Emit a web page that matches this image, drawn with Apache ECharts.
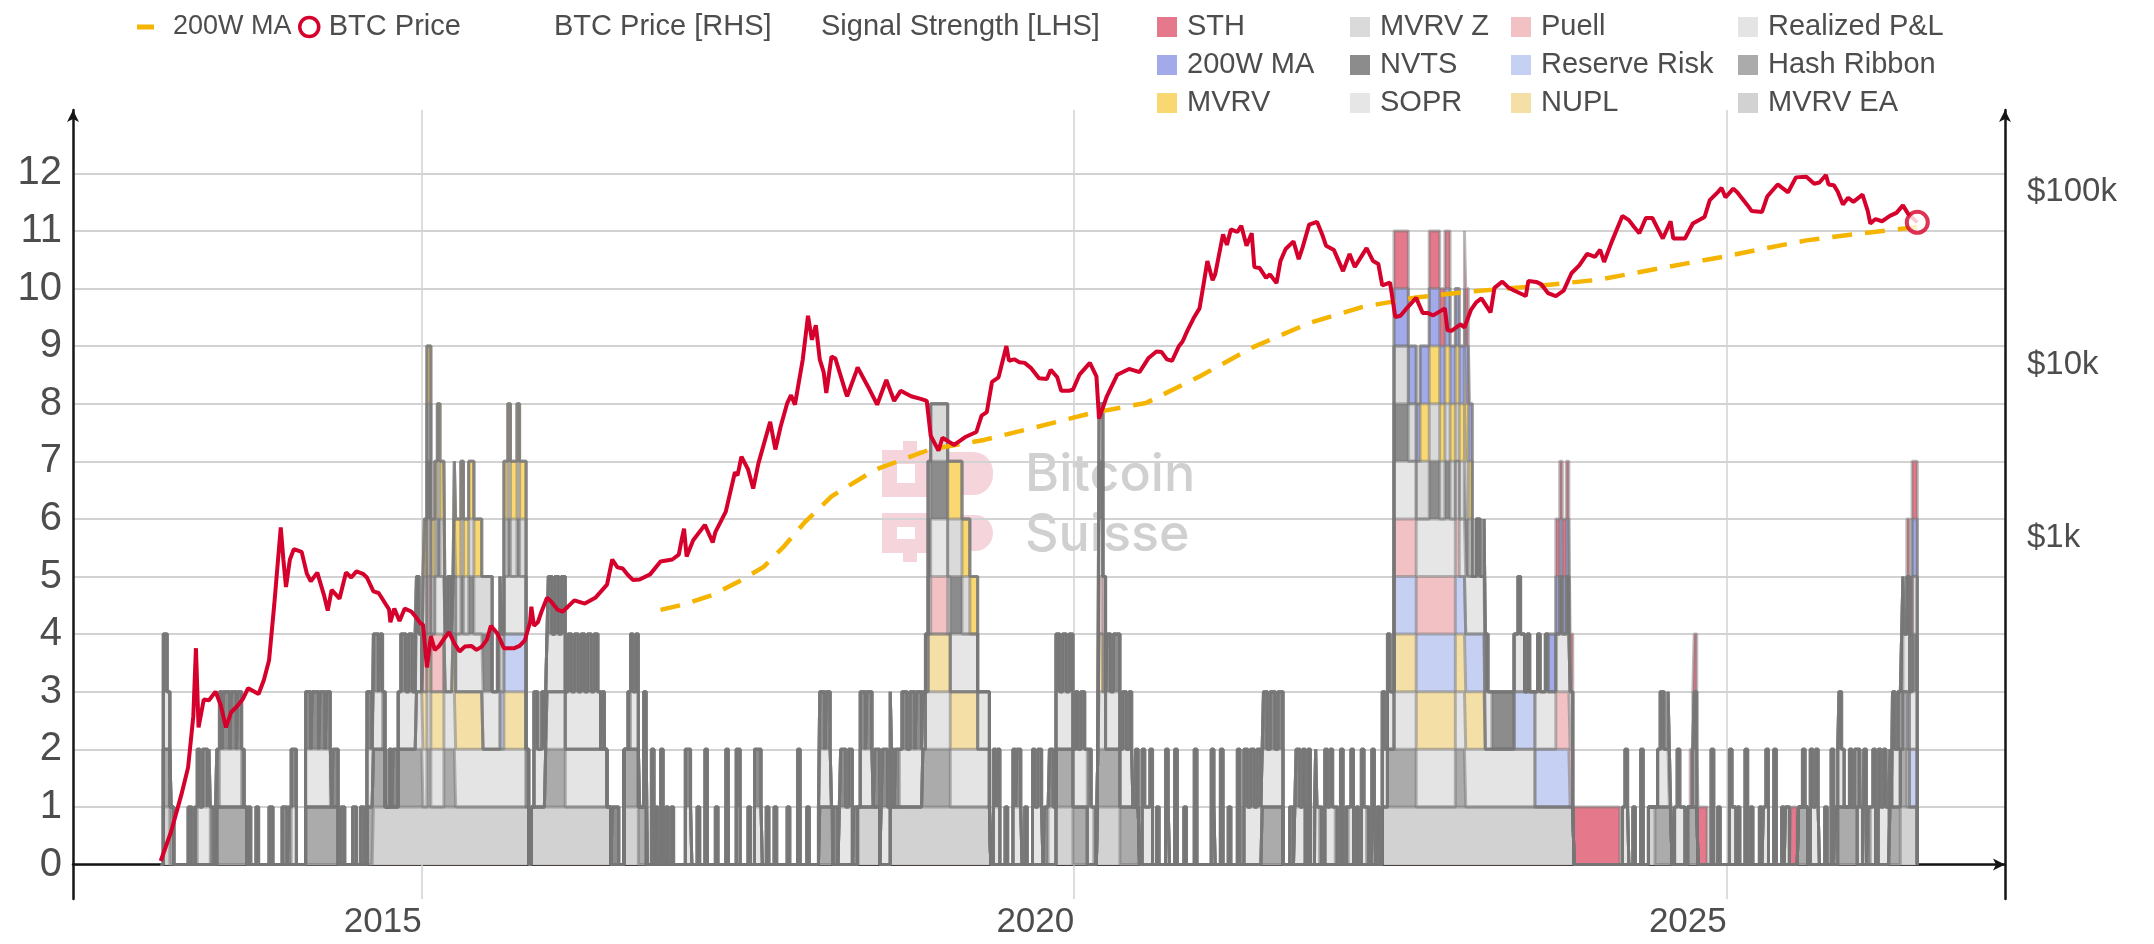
<!DOCTYPE html>
<html>
<head>
<meta charset="utf-8">
<script src="https://cdn.jsdelivr.net/npm/echarts@6.0.0/dist/echarts.min.js"></script>
<style>
  html, body { margin: 0; padding: 0; background: #ffffff; }
  #chart { width: 2154px; height: 944px; }
</style>
</head>
<body>
<div id="chart"></div>
<script>
// ---------- axes ----------
const X_MIN = 2012.328;          // decimal years
const X_MAX = 2027.132;
const yearTicks = [2015, 2020, 2025];
const priceTickLabels = { 3: '$1k', 4: '$10k', 5: '$100k' };   // keyed by log10(price)

// ---------- BTC price, USD [decimal year, price] ----------
const btcPrice = [
  [2013.00, 13.5], [2013.08, 20], [2013.16, 33], [2013.21, 47], [2013.25, 93], [2013.27, 230], [2013.29, 80],
  [2013.33, 116], [2013.37, 115], [2013.42, 129], [2013.46, 108], [2013.50, 80], [2013.54, 98], [2013.58, 105],
  [2013.63, 117], [2013.67, 135], [2013.75, 125], [2013.79, 150], [2013.83, 195], [2013.87, 410], [2013.92, 1150],
  [2013.94, 750], [2013.96, 520], [2013.99, 750],
  [2014.02, 860], [2014.08, 830], [2014.12, 620], [2014.15, 560], [2014.20, 630], [2014.25, 470], [2014.28, 380],
  [2014.31, 500], [2014.37, 445], [2014.42, 630], [2014.46, 590], [2014.50, 640], [2014.55, 620], [2014.58, 590],
  [2014.63, 490], [2014.67, 480], [2014.71, 430], [2014.75, 385], [2014.76, 325], [2014.79, 390], [2014.83, 330],
  [2014.87, 390], [2014.92, 375], [2014.96, 345], [2014.99, 320],
  [2015.01, 315], [2015.04, 178], [2015.07, 270], [2015.10, 225], [2015.13, 235], [2015.17, 260], [2015.21, 285],
  [2015.25, 245], [2015.29, 220], [2015.33, 235], [2015.38, 237], [2015.42, 225], [2015.46, 235], [2015.50, 258],
  [2015.53, 310], [2015.58, 280], [2015.63, 230], [2015.67, 230], [2015.71, 230], [2015.75, 237], [2015.79, 255],
  [2015.83, 325], [2015.84, 400], [2015.86, 310], [2015.89, 325], [2015.92, 378], [2015.96, 450], [2015.99, 430],
  [2016.04, 385], [2016.08, 375], [2016.12, 400], [2016.17, 435], [2016.25, 417], [2016.33, 450], [2016.42, 536],
  [2016.46, 750], [2016.50, 675], [2016.54, 665], [2016.58, 610], [2016.62, 570], [2016.67, 575], [2016.75, 615],
  [2016.83, 730], [2016.92, 750], [2016.97, 800], [2016.99, 960],
  [2017.01, 1130], [2017.03, 780], [2017.08, 970], [2017.17, 1190], [2017.23, 940], [2017.25, 1080], [2017.33, 1420],
  [2017.40, 2400], [2017.42, 2300], [2017.45, 2950], [2017.50, 2500], [2017.54, 1930], [2017.58, 2700], [2017.67, 4700],
  [2017.71, 3250], [2017.75, 4400], [2017.80, 6000], [2017.83, 6700], [2017.86, 5900], [2017.92, 10800], [2017.96, 19300],
  [2017.99, 14000],
  [2018.02, 17000], [2018.05, 10800], [2018.08, 9100], [2018.10, 6900], [2018.14, 11200], [2018.17, 10900], [2018.25, 6900],
  [2018.26, 6600], [2018.33, 9200], [2018.34, 9700], [2018.42, 7500], [2018.49, 5900], [2018.56, 8200], [2018.62, 6200],
  [2018.67, 7100], [2018.75, 6600], [2018.83, 6350], [2018.87, 6200], [2018.90, 3900], [2018.96, 3200], [2018.99, 3800],
  [2019.04, 3600], [2019.08, 3450], [2019.17, 3850], [2019.25, 4100], [2019.29, 5100], [2019.33, 5350], [2019.37, 8000],
  [2019.42, 8500], [2019.48, 12900], [2019.50, 10600], [2019.54, 10800], [2019.58, 10400], [2019.62, 10300], [2019.67, 9600],
  [2019.73, 8400], [2019.79, 8300], [2019.82, 9400], [2019.87, 8500], [2019.90, 7100], [2019.96, 7100], [2019.99, 7200],
  [2020.04, 8800], [2020.12, 10300], [2020.17, 8600], [2020.19, 4900], [2020.25, 6600], [2020.33, 8800], [2020.42, 9500],
  [2020.50, 9100], [2020.57, 11000], [2020.63, 12000], [2020.67, 11900], [2020.71, 10800], [2020.75, 10600], [2020.80, 12800],
  [2020.83, 13700], [2020.87, 16000], [2020.92, 19000], [2020.96, 21300], [2020.99, 29000],
  [2021.02, 40000], [2021.06, 31000], [2021.08, 33500], [2021.14, 57000], [2021.17, 49600], [2021.20, 61000], [2021.25, 59000],
  [2021.28, 64000], [2021.32, 49000], [2021.36, 58000], [2021.38, 37000], [2021.42, 36500], [2021.47, 32000], [2021.50, 33500],
  [2021.55, 29800], [2021.58, 40000], [2021.62, 47000], [2021.68, 52000], [2021.72, 41000], [2021.75, 48000], [2021.80, 65000],
  [2021.86, 67500], [2021.90, 57000], [2021.93, 49000], [2021.99, 46300],
  [2022.06, 35000], [2022.11, 44000], [2022.15, 37000], [2022.24, 47500], [2022.29, 40000], [2022.33, 38500], [2022.36, 28900],
  [2022.42, 30000], [2022.46, 19000], [2022.50, 19300], [2022.54, 21000], [2022.62, 24500], [2022.67, 20000], [2022.71, 20000],
  [2022.75, 19400], [2022.84, 21300], [2022.86, 15900], [2022.89, 15800], [2022.96, 17200], [2022.99, 16500],
  [2023.04, 20900], [2023.08, 23100], [2023.12, 24300], [2023.19, 20200], [2023.22, 28000], [2023.28, 30400], [2023.33, 28000],
  [2023.37, 27000], [2023.46, 25100], [2023.48, 30700], [2023.54, 30300], [2023.58, 29300], [2023.63, 26100], [2023.69, 25100],
  [2023.75, 27000], [2023.81, 34000], [2023.87, 37800], [2023.93, 44000], [2023.99, 42300],
  [2024.03, 46500], [2024.06, 39500], [2024.12, 52000], [2024.20, 73000], [2024.25, 69000], [2024.29, 63000], [2024.33, 58000],
  [2024.38, 71000], [2024.43, 71000], [2024.51, 54000], [2024.57, 68000], [2024.59, 54000], [2024.68, 54000], [2024.74, 66000],
  [2024.83, 72000], [2024.87, 90000], [2024.93, 100000], [2024.96, 106000], [2024.99, 93500],
  [2025.05, 105000], [2025.08, 100000], [2025.16, 84000], [2025.19, 78000], [2025.27, 77000], [2025.31, 94500], [2025.39, 111000],
  [2025.47, 100000], [2025.53, 122000], [2025.61, 123000], [2025.67, 112000], [2025.71, 114000], [2025.76, 126000], [2025.78, 111000],
  [2025.82, 110000], [2025.85, 101000], [2025.89, 85000], [2025.93, 93000], [2025.97, 88000],
  [2026.04, 97000], [2026.08, 78000], [2026.10, 66000], [2026.14, 70000], [2026.19, 68000], [2026.25, 73000], [2026.30, 76000],
  [2026.35, 84000], [2026.39, 75000], [2026.46, 67000]
];

// ---------- 200-week moving average, USD ----------
const ma200wLine = [
  [2016.83, 383], [2017.00, 410], [2017.23, 468], [2017.45, 570], [2017.62, 680], [2017.78, 900], [2017.93, 1220],
  [2018.14, 1740], [2018.47, 2470], [2018.89, 3240], [2019.31, 3690], [2019.72, 4400], [2020.14, 5290], [2020.55, 6040],
  [2020.96, 8600], [2021.38, 12800], [2021.80, 17500], [2022.21, 21700], [2022.60, 24500], [2023.00, 26500],
  [2023.50, 28500], [2024.02, 31200], [2024.50, 36500], [2024.97, 42300], [2025.30, 47500], [2025.61, 52700],
  [2026.00, 57500], [2026.46, 63000]
];

// ---------- signal activity, [start, end) in decimal years ----------
const sth = [[2022.45,2022.56],[2022.72,2022.88],[2022.99,2023.03],[2023.69,2023.82],[2023.83,2024.18],[2024.72,2024.85],[2025.49,2025.54],[2026.38,2026.46]];
const ma200wSignal = [[2022.45,2023.05],[2023.63,2023.80],[2026.40,2026.46]];
const mvrv = [[2015.02,2015.18],[2015.25,2015.46],[2015.63,2015.80],[2019.03,2019.26],[2022.65,2023.05]];
const mvrvZ = [[2015.01,2015.18],[2015.25,2015.54],[2015.63,2015.80],[2018.88,2019.20],[2020.19,2020.22],[2022.45,2023.05],[2026.42,2026.46]];
const nvts = [
  [2013.02,2013.05],[2013.21,2013.24],[2013.26,2013.30],[2013.32,2013.36],[2013.37,2013.41],[2013.42,2013.47],[2013.48,2013.53],
  [2013.54,2013.58],[2013.59,2013.64],[2013.67,2013.69],[2013.73,2013.75],[2013.83,2013.86],[2013.93,2013.97],[2013.98,2014.04],
  [2014.11,2014.15],[2014.16,2014.21],[2014.22,2014.26],[2014.27,2014.31],[2014.32,2014.36],[2014.38,2014.41],[2014.47,2014.50],
  [2014.53,2014.56],[2014.58,2014.62],[2014.63,2014.67],[2014.68,2014.72],[2014.75,2014.77],[2014.78,2014.82],[2014.84,2014.88],
  [2014.90,2014.93],[2014.95,2014.98],
  [2015.04,2015.07],[2015.12,2015.14],[2015.20,2015.23],[2015.30,2015.32],[2015.36,2015.40],[2015.47,2015.54],[2015.58,2015.61],
  [2015.66,2015.68],[2015.73,2015.75],[2015.86,2015.89],[2015.92,2015.94],[2015.97,2016.00],
  [2016.02,2016.05],[2016.07,2016.10],[2016.12,2016.15],[2016.17,2016.20],[2016.22,2016.25],[2016.27,2016.30],[2016.32,2016.35],
  [2016.38,2016.40],[2016.46,2016.51],[2016.58,2016.62],[2016.64,2016.67],[2016.70,2016.73],[2016.76,2016.78],[2016.79,2016.81],
  [2016.83,2016.85],[2016.87,2016.89],[2016.91,2016.93],
  [2017.02,2017.06],[2017.11,2017.13],[2017.17,2017.19],[2017.25,2017.27],[2017.33,2017.35],[2017.41,2017.44],[2017.50,2017.52],
  [2017.55,2017.60],[2017.64,2017.66],[2017.70,2017.72],[2017.80,2017.82],[2017.88,2017.90],[2017.95,2017.97],
  [2018.04,2018.09],[2018.10,2018.13],[2018.15,2018.19],[2018.21,2018.25],[2018.27,2018.30],[2018.31,2018.34],[2018.36,2018.40],
  [2018.41,2018.45],[2018.47,2018.51],[2018.53,2018.57],[2018.59,2018.62],[2018.63,2018.66],[2018.68,2018.72],[2018.74,2018.78],
  [2018.79,2018.83],[2018.88,2019.03],
  [2019.05,2019.14],[2019.38,2019.40],[2019.41,2019.43],[2019.47,2019.49],[2019.53,2019.55],[2019.56,2019.59],[2019.62,2019.64],
  [2019.68,2019.70],[2019.72,2019.75],[2019.77,2019.80],[2019.81,2019.84],[2019.86,2019.89],[2019.91,2019.94],[2019.96,2019.99],
  [2020.01,2020.03],[2020.05,2020.08],[2020.10,2020.13],[2020.15,2020.17],[2020.19,2020.22],[2020.25,2020.28],[2020.30,2020.35],
  [2020.37,2020.40],[2020.42,2020.44],[2020.47,2020.49],[2020.52,2020.54],[2020.58,2020.60],[2020.63,2020.65],[2020.70,2020.72],
  [2020.77,2020.79],[2020.84,2020.86],[2020.92,2020.94],
  [2021.05,2021.07],[2021.12,2021.14],[2021.18,2021.20],[2021.25,2021.27],[2021.30,2021.33],[2021.35,2021.38],[2021.40,2021.43],
  [2021.45,2021.48],[2021.50,2021.54],[2021.56,2021.60],[2021.65,2021.68],[2021.70,2021.73],[2021.75,2021.77],[2021.79,2021.81],
  [2021.84,2021.86],[2021.88,2021.90],[2021.92,2021.94],[2021.96,2021.98],
  [2022.00,2022.02],[2022.04,2022.06],[2022.08,2022.10],[2022.12,2022.14],[2022.16,2022.18],[2022.20,2022.22],[2022.24,2022.26],
  [2022.28,2022.30],[2022.32,2022.34],[2022.36,2022.38],[2022.40,2022.42],[2022.45,2022.56],[2022.72,2022.80],[2022.84,2022.88],
  [2022.99,2023.02],
  [2023.08,2023.11],[2023.14,2023.17],[2023.20,2023.37],[2023.40,2023.42],[2023.47,2023.49],[2023.55,2023.57],[2023.61,2023.63],
  [2023.72,2023.74],[2023.77,2023.79],
  [2024.22,2024.24],[2024.28,2024.30],[2024.34,2024.36],[2024.49,2024.52],[2024.55,2024.57],[2024.62,2024.64],[2024.75,2024.77],
  [2024.88,2024.90],[2024.93,2024.95],
  [2025.02,2025.04],[2025.08,2025.10],[2025.14,2025.16],[2025.18,2025.20],[2025.25,2025.27],[2025.30,2025.32],[2025.36,2025.38],
  [2025.42,2025.44],[2025.58,2025.60],[2025.64,2025.66],[2025.68,2025.70],[2025.75,2025.77],[2025.80,2025.82],[2025.86,2025.88],
  [2025.94,2025.96],
  [2026.00,2026.02],[2026.05,2026.07],[2026.08,2026.10],[2026.12,2026.14],[2026.16,2026.18],[2026.20,2026.22],[2026.24,2026.26],
  [2026.27,2026.29],[2026.31,2026.33],[2026.34,2026.36],[2026.38,2026.40],[2026.42,2026.46]
];
const sopr = [
  [2013.02,2013.08],[2013.28,2013.38],[2013.45,2013.62],[2014.00,2014.04],[2014.11,2014.30],[2014.58,2014.70],[2014.82,2015.00],
  [2015.04,2015.07],[2015.10,2015.80],[2015.86,2016.37],[2016.60,2016.66],[2016.70,2016.73],[2016.76,2016.78],[2016.83,2016.85],
  [2017.02,2017.07],[2017.17,2017.19],[2017.33,2017.35],[2017.41,2017.44],[2017.55,2017.61],[2017.88,2017.90],[2018.05,2018.14],
  [2018.20,2018.30],[2018.36,2018.46],[2018.52,2018.60],[2018.66,2019.35],[2019.38,2019.43],[2019.53,2019.60],[2019.68,2019.76],
  [2019.80,2020.15],[2020.19,2020.45],[2020.52,2020.60],[2020.70,2020.73],[2020.77,2020.79],[2020.92,2020.94],[2021.05,2021.08],
  [2021.12,2021.14],[2021.25,2021.27],[2021.30,2021.60],[2021.69,2021.77],[2021.79,2021.81],[2021.85,2021.88],[2021.92,2022.00],
  [2022.04,2022.06],[2022.10,2022.14],[2022.20,2022.24],[2022.28,2022.31],[2022.36,2023.20],[2023.37,2023.45],[2023.53,2023.82],
  [2024.20,2024.25],[2024.34,2024.36],[2024.47,2024.56],[2024.60,2024.68],[2024.74,2024.77],[2024.88,2024.90],[2025.02,2025.07],
  [2025.14,2025.16],[2025.28,2025.32],[2025.36,2025.38],[2025.45,2025.48],[2025.64,2025.71],[2025.80,2025.82],[2025.83,2025.90],
  [2025.98,2026.04],[2026.05,2026.07],[2026.10,2026.14],[2026.16,2026.24],[2026.27,2026.46]
];
const puell = [[2015.01,2015.17],[2018.90,2019.03],[2020.19,2020.24],[2022.45,2022.95],[2023.69,2023.82]];
const reserveRisk = [[2015.60,2015.82],[2022.45,2023.15],[2023.37,2023.80],[2026.38,2026.46]];
const nupl = [[2015.01,2015.18],[2015.24,2015.47],[2015.63,2015.80],[2018.88,2019.26],[2020.19,2020.22],[2022.45,2023.15]];
const realizedPnl = [[2014.96,2015.80],[2015.96,2016.42],[2018.86,2019.35],[2020.19,2020.24],[2022.45,2023.53],[2026.35,2026.40]];
const hashRibbon = [
  [2013.02,2013.10],[2013.43,2013.66],[2014.11,2014.36],[2014.58,2014.72],[2014.82,2015.01],[2015.04,2015.07],[2015.17,2015.26],
  [2015.95,2016.10],[2016.55,2016.72],[2018.05,2018.15],[2018.84,2019.05],[2019.86,2020.10],[2020.18,2020.50],[2021.44,2021.60],
  [2022.40,2022.62],[2022.92,2023.00],[2024.45,2024.58],[2024.70,2024.78],[2025.55,2025.62],[2025.85,2026.00],[2026.25,2026.38]
];
const mvrvEa = [
  [2013.02,2013.07],[2014.63,2015.82],[2015.84,2016.45],[2016.55,2016.66],[2018.34,2018.51],[2018.59,2019.36],[2019.86,2019.99],
  [2020.18,2020.35],[2022.36,2023.83],[2024.40,2024.45],[2026.33,2026.46]
];
const SIGNAL_START = 2013.0;
const SIGNAL_END = 2026.46;

// stack order, bottom first
const signals = [
  { name: 'MVRV EA',      color: '#D2D2D2', periods: mvrvEa },
  { name: 'Hash Ribbon',  color: '#ABABAB', periods: hashRibbon },
  { name: 'Realized P&L', color: '#E4E4E4', periods: realizedPnl },
  { name: 'NUPL',         color: '#F4DFA6', periods: nupl },
  { name: 'Reserve Risk', color: '#C6D0F2', periods: reserveRisk },
  { name: 'Puell',        color: '#F2C1C4', periods: puell },
  { name: 'SOPR',         color: '#E6E6E6', periods: sopr },
  { name: 'NVTS',         color: '#8C8C8C', periods: nvts },
  { name: 'MVRV Z',       color: '#DADADA', periods: mvrvZ },
  { name: 'MVRV',         color: '#F9D872', periods: mvrv },
  { name: '200W MA',      color: '#A3AAEA', periods: ma200wSignal },
  { name: 'STH',          color: '#E5788A', periods: sth }
];

const legendColumns = [
  ['STH', '200W MA', 'MVRV'],
  ['MVRV Z', 'NVTS', 'SOPR'],
  ['Puell', 'Reserve Risk', 'NUPL'],
  ['Realized P&L', 'Hash Ribbon', 'MVRV EA']
];
const legendLefts = [1157, 1350, 1511, 1738];

// ---------- build ----------
const FONT = "'Liberation Sans', Arial, sans-serif";
const TEXT = '#4d4d4d';
const RED = '#D5002B';
const GOLD = '#F5B400';

// common time steps: every start / end of any signal
const edges = new Set([SIGNAL_START, SIGNAL_END]);
signals.forEach(s => s.periods.forEach(([a, b]) => { edges.add(a); edges.add(b); }));
const timeline = Array.from(edges).sort((a, b) => a - b);

// running totals: level k = number of active signals among the first k+1 of the stack
let running = timeline.map(() => 0);
const stackTops = signals.map(s => {
  running = running.map((r, i) => {
    const t = timeline[i];
    return r + (s.periods.some(([a, b]) => t >= a && t < b) ? 1 : 0);
  });
  return running.slice();
});

// filled bands: highest cumulative level painted first, lower levels over it
const bandSeries = signals.map((s, k) => ({
  type: 'line',
  name: s.name,
  xAxisIndex: 1,
  yAxisIndex: 2,
  step: 'end',
  symbol: 'none',
  z: 2,
  silent: true,
  emphasis: { disabled: true },
  itemStyle: { color: s.color },
  lineStyle: { width: 0 },
  areaStyle: { color: s.color, opacity: 1 },
  data: timeline.map((t, i) => [t, stackTops[k][i]])
})).reverse();

// grey outline along every band's upper edge
const outlineSeries = signals.map((s, k) => ({
  type: 'line',
  xAxisIndex: 1,
  yAxisIndex: 2,
  step: 'end',
  symbol: 'none',
  z: 3,
  silent: true,
  emphasis: { disabled: true },
  lineStyle: { color: 'rgba(118,118,118,0.5)', width: 3 },
  data: timeline.map((t, i) => [t, stackTops[k][i]])
}));

const colorOf = {};
signals.forEach(s => { colorOf[s.name] = s.color; });

const signalLegends = legendColumns.map((names, i) => ({
  orient: 'vertical',
  left: legendLefts[i],
  top: 12,
  padding: 0,
  itemGap: 8,
  itemWidth: 20,
  itemHeight: 20,
  textStyle: { fontFamily: FONT, fontSize: 29, color: TEXT, lineHeight: 30, padding: [0, 0, 0, 5] },
  data: names.map(n => ({ name: n, icon: 'rect', itemStyle: { color: colorOf[n], borderWidth: 0 } }))
}));

const lastPrice = btcPrice[btcPrice.length - 1];

// watermark logo pieces (two rows of a framed square and a rounded block)
function logoRow(y0, h, stemY) {
  const c = 'rgba(226,112,138,0.30)';
  return [
    { type: 'rect', shape: { x: 882, y: y0, width: 50, height: 14 }, style: { fill: c } },
    { type: 'rect', shape: { x: 882, y: y0 + h - 14, width: 50, height: 14 }, style: { fill: c } },
    { type: 'rect', shape: { x: 882, y: y0 + 14, width: 15, height: h - 28 }, style: { fill: c } },
    { type: 'rect', shape: { x: 915, y: y0 + 14, width: 17, height: h - 28 }, style: { fill: c } },
    { type: 'rect', shape: { x: 903, y: stemY, width: 14, height: 9 }, style: { fill: c } },
    { type: 'rect', shape: { x: 935, y: y0 + 2, width: 58, height: h - 4, r: [0, 20, 20, 0] }, style: { fill: c } }
  ];
}

const option = {
  backgroundColor: '#ffffff',
  animation: false,
  grid: [
    { left: 73, right: 149, top: 110, bottom: 45 },      // frame with axis lines
    { left: 73, right: 149, top: 173.3, bottom: 79.5 },  // signal strength 0..12
    { left: 73, right: 149, top: 19.5, bottom: 60.5 }    // BTC price, log 10..1e6
  ],
  xAxis: [
    {
      type: 'value', gridIndex: 0, min: X_MIN, max: X_MAX,
      axisLine: { show: true, lineStyle: { color: '#151515', width: 2.5 }, symbol: ['none', 'arrow'], symbolSize: [9, 12] },
      axisTick: { show: false },
      splitLine: { show: false },
      axisLabel: {
        customValues: yearTicks, formatter: v => String(Math.round(v)),
        align: 'right', margin: 6, fontFamily: FONT, fontSize: 35, color: TEXT
      }
    },
    { type: 'value', gridIndex: 1, min: X_MIN, max: X_MAX, show: false },
    { type: 'value', gridIndex: 2, min: X_MIN, max: X_MAX, show: false }
  ],
  yAxis: [
    {
      type: 'value', gridIndex: 0, min: -0.6, max: 13.1, position: 'left',
      axisLine: { show: true, lineStyle: { color: '#151515', width: 2.5 }, symbol: ['none', 'arrow'], symbolSize: [9, 12] },
      axisTick: { show: false }, axisLabel: { show: false }, splitLine: { show: false }
    },
    {
      type: 'value', gridIndex: 0, min: -0.6, max: 13.1, position: 'right',
      axisLine: { show: true, lineStyle: { color: '#151515', width: 2.5 }, symbol: ['none', 'arrow'], symbolSize: [9, 12] },
      axisTick: { show: false }, axisLabel: { show: false }, splitLine: { show: false }
    },
    {
      type: 'value', gridIndex: 1, min: 0, max: 12, interval: 1, position: 'left',
      axisLine: { show: false }, axisTick: { show: false },
      axisLabel: { margin: 11, fontFamily: FONT, fontSize: 40, color: TEXT },
      splitLine: { show: true, lineStyle: { color: '#d2d2d2', width: 2 } }
    },
    {
      type: 'log', logBase: 10, gridIndex: 2, min: 10, max: 1000000, position: 'right',
      axisLine: { show: false }, axisTick: { show: false }, splitLine: { show: false },
      axisLabel: {
        margin: 22, fontFamily: FONT, fontSize: 33, color: TEXT,
        formatter: v => priceTickLabels[Math.round(Math.log10(v))] || ''
      }
    }
  ],
  legend: [
    {
      left: 137, top: 12, padding: 0, itemWidth: 17, itemHeight: 5,
      textStyle: { fontFamily: FONT, fontSize: 27, color: TEXT, lineHeight: 30, padding: [0, 0, 0, 14] },
      data: [{ name: '200W MA', icon: 'rect', itemStyle: { color: GOLD, borderWidth: 0 } }]
    },
    {
      left: 298, top: 12, padding: 0, itemWidth: 19, itemHeight: 19,
      textStyle: { fontFamily: FONT, fontSize: 29, color: TEXT, lineHeight: 30, padding: [0, 0, 0, 5] },
      data: [{ name: 'BTC Price', icon: 'circle', itemStyle: { color: '#ffffff', borderColor: RED, borderWidth: 3.5 } }]
    },
    ...signalLegends
  ],
  graphic: [
    { type: 'text', left: 554, top: 12, style: { text: 'BTC Price [RHS]', font: `29px ${FONT}`, fill: TEXT, lineHeight: 30 } },
    { type: 'text', left: 821, top: 12, style: { text: 'Signal Strength [LHS]', font: `29px ${FONT}`, fill: TEXT, lineHeight: 30 } },
    {
      type: 'group', z: 5, silent: true,
      children: [
        ...logoRow(450, 47, 441),
        ...logoRow(513, 40, 553),
        { type: 'text', x: 1025, y: 475, style: { text: 'Bitcoin', font: '500 52px Inter', fill: 'rgba(150,150,150,0.45)', verticalAlign: 'middle' } },
        { type: 'text', x: 1025, y: 535, style: { text: 'Suisse', font: '500 52px Inter', fill: 'rgba(150,150,150,0.45)', verticalAlign: 'middle' } }
      ]
    }
  ],
  series: [
    {
      type: 'line', xAxisIndex: 0, yAxisIndex: 0, symbol: 'none', silent: true, z: 1,
      lineStyle: { width: 0 }, data: [[yearTicks[0], 0]],
      markLine: {
        silent: true, symbol: 'none', label: { show: false }, z: 1,
        lineStyle: { color: '#d2d2d2', width: 1.5, type: 'solid' },
        data: yearTicks.map(y => ({ xAxis: y }))
      }
    },
    ...bandSeries,
    ...outlineSeries,
    {
      type: 'line', name: '200W MA', xAxisIndex: 2, yAxisIndex: 3, symbol: 'none', z: 9, silent: true,
      itemStyle: { color: GOLD },
      lineStyle: { color: GOLD, width: 4.5, type: [20, 13] },
      data: ma200wLine
    },
    {
      type: 'line', name: 'BTC Price', xAxisIndex: 2, yAxisIndex: 3, symbol: 'none', z: 10, silent: true,
      itemStyle: { color: RED },
      lineStyle: { color: RED, width: 4 },
      data: btcPrice
    },
    {
      type: 'scatter', name: 'BTC Price', xAxisIndex: 2, yAxisIndex: 3, z: 11, silent: true,
      symbol: 'circle', symbolSize: 21,
      itemStyle: { color: '#ffffff', borderColor: RED, borderWidth: 4 },
      data: [lastPrice]
    }
  ]
};

const chart = echarts.init(document.getElementById('chart'), null, { renderer: 'canvas' });
chart.setOption(option);
</script>
</body>
</html>
